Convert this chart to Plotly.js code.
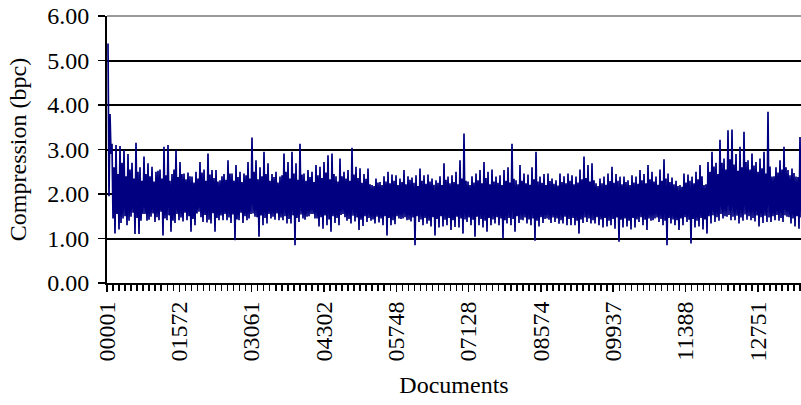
<!DOCTYPE html>
<html>
<head>
<meta charset="utf-8">
<script src="https://cdn.plot.ly/plotly-3.0.1.min.js"></script>
<style>
  html, body { margin: 0; padding: 0; background: #fff; }
  #chart { width: 801px; height: 405px; }
</style>
</head>
<body>
<div id="chart"></div>
<script>
// Tick labels (document ids shown on the category axis)
const docLabels = ['00001','01572','03061','04302','05748','07128','08574','09937','11388','12751'];

// Compression (bpc) read from the chart, per sampled slice of documents:
// highest and lowest value in the slice ...
const sliceHigh = [
  5.38,3.13,3.10,3.08,2.99,2.90,2.70,3.15,2.60,2.84,
  2.69,2.61,2.50,2.55,3.06,3.10,2.45,2.99,2.72,2.46,
  2.48,2.39,2.50,2.72,2.55,2.91,2.54,2.54,2.31,2.45,
  2.76,2.46,2.65,2.50,2.46,2.72,3.27,2.76,2.60,2.95,
  2.69,2.45,2.50,2.39,2.91,2.72,2.95,2.69,3.13,2.46,
  2.54,2.50,2.65,2.61,2.72,2.87,2.91,2.40,2.80,2.50,
  2.54,3.04,2.61,2.58,2.45,2.57,2.20,2.35,2.27,2.40,
  2.50,2.44,2.42,2.35,2.54,2.40,2.37,2.42,2.57,2.42,
  2.44,2.35,2.31,2.40,2.69,2.39,2.42,2.50,2.76,3.36,
  2.28,2.40,2.46,2.54,2.72,2.50,2.55,2.39,2.42,2.54,
  2.60,3.13,2.31,2.65,2.46,2.44,2.60,2.95,2.39,2.45,
  2.46,2.35,2.31,2.46,2.40,2.46,2.42,2.39,2.55,2.84,
  2.65,2.69,2.24,2.35,2.39,2.46,2.61,2.45,2.39,2.39,
  2.31,2.42,2.39,2.54,2.45,2.65,2.50,2.39,2.55,2.78,
  2.46,2.37,2.30,2.20,2.46,2.44,2.39,2.50,2.65,2.20,
  2.72,2.95,2.70,3.22,2.80,3.43,3.45,2.90,3.06,3.40,
  2.76,2.91,2.72,2.80,2.95,3.85,2.39,2.60,2.76,3.06,
  2.54,2.57,2.39,3.28
];
const sliceLow = [
  2.90,1.11,1.20,1.45,1.30,1.49,1.10,1.10,1.55,1.40,
  1.49,1.37,1.41,1.07,1.41,1.15,1.35,1.41,1.38,1.41,
  1.15,1.30,1.60,1.37,1.36,1.34,1.15,1.41,1.41,1.41,
  1.35,0.96,1.41,1.35,1.41,1.55,1.49,1.04,1.30,1.34,
  1.45,1.42,1.41,1.41,1.34,1.34,0.85,1.37,1.45,1.49,
  1.55,1.45,1.27,1.22,1.30,1.15,1.35,1.30,1.55,1.40,
  1.34,1.38,1.19,1.28,1.37,1.40,1.34,1.36,1.30,1.07,
  1.30,1.32,1.45,1.45,1.41,1.38,0.85,1.37,1.30,1.33,
  1.27,1.07,1.25,1.27,1.30,1.19,1.26,1.25,1.11,1.37,
  1.30,1.04,1.30,1.25,1.15,1.30,1.34,1.30,1.00,1.34,
  1.30,1.15,1.35,1.41,1.34,1.30,0.95,1.27,1.35,1.45,
  1.35,1.37,1.33,1.34,1.30,1.30,1.30,1.11,1.35,1.37,
  1.34,1.34,1.30,1.25,1.27,1.30,1.22,0.93,1.25,1.27,
  1.20,1.25,1.37,1.30,1.19,1.40,1.45,1.37,1.30,0.85,
  1.34,1.30,1.19,1.30,1.37,0.89,1.25,1.27,1.20,1.11,
  1.34,1.37,1.40,1.45,1.49,1.41,1.41,1.34,1.40,1.42,
  1.41,1.38,1.27,1.35,1.37,1.37,1.41,1.40,1.37,1.49,
  1.34,1.27,1.22,1.37
];
// ... and the next-highest / next-lowest excursion in the same slice (the dense body)
const sliceHigh2 = [
  3.80,2.60,2.45,2.70,2.40,2.55,2.35,2.50,2.30,2.45,
  2.40,2.28,2.52,2.35,2.42,2.30,2.55,2.38,2.45,2.33,
  2.40,2.26,2.35,2.48,2.30,2.44,2.36,2.28,2.40,2.32,
  2.46,2.30,2.38,2.27,2.42,2.35,2.50,2.33,2.40,2.45,
  2.30,2.38,2.26,2.42,2.50,2.35,2.46,2.32,2.44,2.30,
  2.38,2.27,2.42,2.36,2.48,2.33,2.45,2.28,2.40,2.35,
  2.30,2.44,2.36,2.25,2.34,2.22,2.18,2.26,2.20,2.28,
  2.24,2.30,2.20,2.27,2.22,2.32,2.25,2.18,2.30,2.23,
  2.28,2.21,2.25,2.20,2.32,2.24,2.27,2.22,2.35,2.30,
  2.20,2.26,2.31,2.24,2.36,2.22,2.28,2.25,2.20,2.30,
  2.26,2.34,2.22,2.30,2.24,2.21,2.33,2.28,2.25,2.20,
  2.29,2.23,2.19,2.27,2.24,2.30,2.22,2.26,2.33,2.36,
  2.28,2.31,2.18,2.24,2.21,2.29,2.25,2.30,2.22,2.27,
  2.20,2.26,2.23,2.31,2.24,2.33,2.28,2.21,2.30,2.35,
  2.27,2.22,2.18,2.16,2.26,2.30,2.24,2.33,2.40,2.22,
  2.50,2.62,2.45,2.70,2.55,2.78,2.66,2.52,2.60,2.72,
  2.55,2.64,2.50,2.58,2.46,2.62,2.40,2.48,2.55,2.60,
  2.42,2.47,2.38,2.50
];
const sliceLow2 = [
  1.95,1.45,1.55,1.35,1.50,1.40,1.58,1.46,1.40,1.55,
  1.42,1.56,1.48,1.60,1.45,1.52,1.40,1.55,1.47,1.58,
  1.50,1.44,1.56,1.48,1.53,1.42,1.57,1.46,1.52,1.55,
  1.47,1.54,1.43,1.58,1.50,1.45,1.56,1.48,1.52,1.46,
  1.55,1.49,1.56,1.47,1.50,1.44,1.52,1.46,1.54,1.42,
  1.50,1.55,1.45,1.48,1.52,1.43,1.50,1.46,1.53,1.48,
  1.44,1.51,1.47,1.42,1.50,1.46,1.43,1.49,1.45,1.50,
  1.46,1.41,1.50,1.44,1.48,1.42,1.47,1.50,1.43,1.46,
  1.40,1.48,1.44,1.50,1.42,1.46,1.41,1.49,1.45,1.43,
  1.47,1.42,1.49,1.44,1.40,1.46,1.43,1.48,1.45,1.41,
  1.46,1.44,1.50,1.42,1.47,1.43,1.45,1.40,1.48,1.44,
  1.42,1.47,1.45,1.41,1.49,1.44,1.46,1.40,1.43,1.47,
  1.45,1.41,1.48,1.43,1.46,1.40,1.44,1.47,1.42,1.45,
  1.40,1.46,1.43,1.48,1.42,1.45,1.41,1.47,1.44,1.40,
  1.46,1.43,1.41,1.45,1.48,1.42,1.44,1.40,1.46,1.43,
  1.50,1.52,1.48,1.55,1.50,1.53,1.49,1.51,1.47,1.54,
  1.50,1.46,1.52,1.48,1.51,1.47,1.50,1.53,1.46,1.52,
  1.48,1.45,1.50,1.47
];

// Slices between two labelled documents, and minor ticks per label interval
const slicesPerLabel = 18.08;
const minorPerLabel = 12;
const labelOffset = -0.25;

const xs = [], ys = [];
for (let k = 0; k < sliceHigh.length; k++) {
  xs.push(k);         ys.push(sliceHigh[k]);
  xs.push(k + 0.25);  ys.push(sliceLow2[k]);
  xs.push(k + 0.5);   ys.push(sliceHigh2[k]);
  xs.push(k + 0.75);  ys.push(sliceLow[k]);
}

const tickvals = docLabels.map((_, i) => labelOffset + i * slicesPerLabel);
const minorVals = [];
for (let j = 0; j <= docLabels.length * minorPerLabel; j++) {
  minorVals.push(labelOffset + j * slicesPerLabel / minorPerLabel);
}

const font = { family: 'Liberation Serif, Times New Roman, serif', size: 24, color: '#000' };
const navy = '#000080';

const data = [
  { type: 'scatter', mode: 'lines', x: xs, y: ys,
    line: { color: navy, width: 1.7 }, hoverinfo: 'skip' }
];

const layout = {
  width: 801,
  height: 405,
  margin: { l: 107, r: 0, t: 16, b: 122 },
  paper_bgcolor: '#fff',
  plot_bgcolor: '#fff',
  showlegend: false,
  font: font,
  shapes: [
    // top border of the plot area is drawn in grey in the original
    { type: 'line', xref: 'paper', yref: 'paper', x0: 0, x1: 1, y0: 1, y1: 1,
      line: { color: '#9a9a9a', width: 2 }, layer: 'above' }
  ],
  xaxis: {
    range: [labelOffset, labelOffset + 173.5],
    tickmode: 'array',
    tickvals: tickvals,
    ticktext: docLabels,
    tickangle: -90,
    ticks: 'outside',
    ticklen: 7,
    tickwidth: 1.5,
    tickcolor: '#000',
    showgrid: false,
    zeroline: false,
    showline: true,
    linecolor: '#000',
    linewidth: 2,
    tickfont: font,
    minor: {
      tickmode: 'array',
      tickvals: minorVals,
      ticks: 'outside',
      ticklen: 6,
      tickwidth: 1.5,
      tickcolor: '#000',
      showgrid: false
    },
    title: { text: 'Documents', font: font, standoff: 16 }
  },
  yaxis: {
    range: [0, 6],
    tickmode: 'linear',
    tick0: 0,
    dtick: 1,
    tickformat: '.2f',
    ticks: 'outside',
    ticklen: 7,
    tickwidth: 1.5,
    tickcolor: '#000',
    showgrid: true,
    gridcolor: '#000',
    gridwidth: 2,
    zeroline: false,
    showline: true,
    linecolor: '#000',
    linewidth: 2,
    tickfont: font,
    ticklabelstandoff: 4,
    title: { text: 'Compression (bpc)', font: font, standoff: 14 }
  }
};

Plotly.newPlot('chart', data, layout, { staticPlot: true, displayModeBar: false });
</script>
</body>
</html>
